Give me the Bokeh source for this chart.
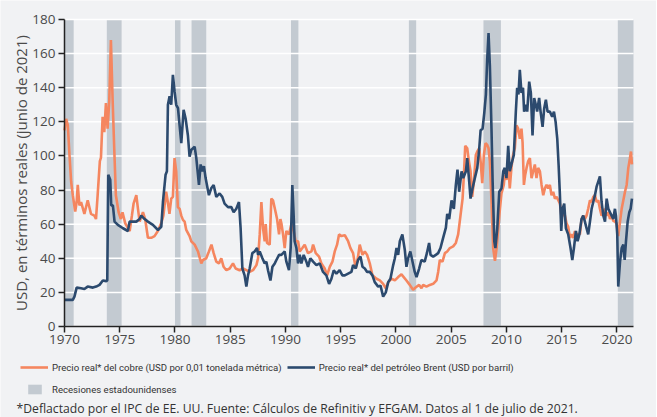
from bokeh.plotting import figure
from bokeh.models import Legend, LegendItem, Label, FixedTicker, ColumnDataSource, Range1d
from bokeh.embed import file_html
from bokeh.resources import INLINE

# ---------------- data ----------------
copper_years = [
    1970.0, 1970.15, 1970.3, 1970.45, 1970.6, 1970.75, 1970.97, 1971.1, 1971.2, 1971.35,
    1971.5, 1971.8, 1972.1, 1972.4, 1972.7, 1972.85, 1973.0, 1973.2, 1973.3, 1973.45,
    1973.6, 1973.75, 1973.9, 1974.05, 1974.2, 1974.35, 1974.5, 1974.65, 1974.9, 1975.1,
    1975.25, 1975.5, 1975.9, 1976.1, 1976.25, 1976.5, 1976.65, 1976.8, 1977.1, 1977.3,
    1977.55, 1977.85, 1978.15, 1978.45, 1978.75, 1978.95, 1979.2, 1979.35, 1979.5, 1979.66,
    1979.81, 1979.96, 1980.11, 1980.26, 1980.42, 1980.57, 1980.72, 1980.87, 1981.02, 1981.32,
    1981.47, 1981.78, 1982.08, 1982.38, 1982.53, 1982.83, 1983.07, 1983.3, 1983.5, 1983.74,
    1983.98, 1984.19, 1984.4, 1984.65, 1984.95, 1985.25, 1985.49, 1985.85, 1986.16, 1986.46,
    1986.76, 1987.06, 1987.37, 1987.52, 1987.67, 1987.82, 1987.97, 1988.12, 1988.21, 1988.33,
    1988.57, 1988.72, 1988.87, 1989.11, 1989.24, 1989.42, 1989.54, 1989.63, 1989.78, 1989.93,
    1990.08, 1990.32, 1990.53, 1990.74, 1990.92, 1991.14, 1991.29, 1991.53, 1991.74, 1992.04,
    1992.35, 1992.5, 1992.74, 1993.04, 1993.25, 1993.55, 1993.77, 1994.01, 1994.25, 1994.46,
    1994.67, 1994.85, 1995.06, 1995.37, 1995.67, 1995.88, 1996.12, 1996.36, 1996.57, 1996.72,
    1996.97, 1997.18, 1997.39, 1997.63, 1997.87, 1998.24, 1998.54, 1998.84, 1999.08, 1999.3,
    1999.6, 1999.9, 2000.2, 2000.5, 2000.95, 2001.25, 2001.55, 2001.8, 2002.1, 2002.31,
    2002.46, 2002.76, 2003.07, 2003.37, 2003.67, 2003.82, 2003.97, 2004.21, 2004.43, 2004.64,
    2004.88, 2005.18, 2005.42, 2005.63, 2005.84, 2006.03, 2006.15, 2006.27, 2006.45, 2006.6,
    2006.75, 2006.9, 2007.05, 2007.23, 2007.36, 2007.54, 2007.66, 2007.81, 2007.96, 2008.11,
    2008.26, 2008.38, 2008.5, 2008.65, 2008.8, 2008.96, 2009.11, 2009.26, 2009.41, 2009.55,
    2009.76, 2009.85, 2010.0, 2010.16, 2010.3, 2010.45, 2010.6, 2010.76, 2010.91, 2011.06,
    2011.21, 2011.36, 2011.46, 2011.58, 2011.7, 2011.82, 2011.97, 2012.12, 2012.27, 2012.42,
    2012.57, 2012.72, 2012.87, 2013.03, 2013.18, 2013.33, 2013.48, 2013.63, 2013.78, 2013.93,
    2014.08, 2014.23, 2014.39, 2014.54, 2014.69, 2014.84, 2014.99, 2015.14, 2015.29, 2015.44,
    2015.59, 2015.74, 2015.9, 2016.05, 2016.2, 2016.35, 2016.5, 2016.65, 2016.8, 2016.95,
    2017.1, 2017.25, 2017.4, 2017.56, 2017.71, 2017.86, 2018.01, 2018.16, 2018.31, 2018.46,
    2018.61, 2018.77, 2018.92, 2019.07, 2019.22, 2019.37, 2019.52, 2019.67, 2019.82, 2019.97,
    2020.12, 2020.28, 2020.43, 2020.58, 2020.73, 2020.88, 2021.03, 2021.18, 2021.27, 2021.36,
]
copper_values = [
    115, 121.7, 118, 100.6, 85, 77, 67.4, 73, 83, 71,
    73, 66, 74, 66, 65, 63, 77, 97, 99, 123,
    114, 131, 116, 132, 168, 134, 104.5, 77, 67, 63,
    67, 60.5, 56, 65, 72, 77, 69, 61.5, 67, 63,
    52, 52, 53, 56, 60.5, 65, 79, 73, 66, 75,
    76, 98.7, 91, 70, 69, 65, 62.5, 61.5, 56.6, 53,
    50, 48, 44, 37, 39, 40, 44, 48, 43, 38,
    37, 40, 35, 33, 34, 37, 34, 33, 34, 33,
    32, 33, 36, 40, 54, 73, 57.6, 50, 60, 49,
    48, 75, 74, 67, 63, 54, 63, 60.5, 54, 46,
    56, 54, 60, 56, 50, 50, 44, 46, 48, 43,
    44, 48, 43, 41, 37, 34, 30, 35, 38, 44,
    48, 54, 53, 53.5, 50, 46, 43, 34, 41, 48,
    42, 44, 42, 37, 30, 28, 27, 25, 22.4, 26,
    28, 27, 29, 30.6, 27, 24.4, 21.5, 23, 24.4, 22.4,
    24.4, 23.4, 24.4, 25, 27, 32, 39, 38, 43, 44,
    46, 47, 49, 54, 65, 75, 89, 106, 104.5, 97,
    91, 76, 85, 100.6, 102.6, 104.5, 97, 84, 100.6, 107.5,
    106.5, 104.5, 97, 73, 46, 38.5, 46, 57.6, 69, 78,
    83, 89, 86, 95, 81, 93, 100.6, 104.5, 118, 116,
    110, 116, 108, 83, 89, 93, 97, 98.7, 87, 91,
    95, 87, 93, 91, 83, 77, 81, 83, 81, 83,
    77, 79, 75, 76, 74, 72, 64, 67, 65, 60.5,
    58.5, 52, 54, 52, 56, 52.5, 54.5, 54, 63, 65,
    63, 65, 69, 74, 73, 76, 77, 73, 74, 69,
    65, 67, 69, 65, 67, 63, 65, 62, 61.5, 60.5,
    53, 61.5, 69, 74, 79, 83, 93, 98.7, 102.6, 95,
]

oil_years = [
    1970.0, 1970.75, 1970.9, 1971.1, 1971.5, 1971.8, 1972.1, 1972.57, 1972.87, 1973.17,
    1973.47, 1973.78, 1973.87, 1973.96, 1974.14, 1974.23, 1974.38, 1974.53, 1974.83, 1975.29,
    1975.74, 1975.89, 1976.19, 1976.5, 1976.8, 1976.95, 1977.25, 1977.55, 1978.0, 1978.46,
    1978.76, 1978.91, 1979.15, 1979.27, 1979.36, 1979.51, 1979.66, 1979.81, 1979.96, 1980.11,
    1980.27, 1980.57, 1980.78, 1980.96, 1981.17, 1981.32, 1981.47, 1981.78, 1981.93, 1982.17,
    1982.32, 1982.47, 1982.62, 1982.77, 1983.07, 1983.28, 1983.5, 1983.74, 1984.04, 1984.28,
    1984.49, 1984.8, 1985.1, 1985.31, 1985.55, 1985.79, 1985.94, 1986.1, 1986.3, 1986.46,
    1986.61, 1986.76, 1987.0, 1987.21, 1987.43, 1987.52, 1987.67, 1987.91, 1988.12, 1988.27,
    1988.42, 1988.64, 1988.82, 1989.03, 1989.18, 1989.42, 1989.63, 1989.78, 1989.93, 1990.08,
    1990.32, 1990.47, 1990.62, 1990.74, 1990.83, 1990.99, 1991.14, 1991.29, 1991.44, 1991.65,
    1991.89, 1992.04, 1992.25, 1992.5, 1992.8, 1993.1, 1993.4, 1993.7, 1993.95, 1994.16,
    1994.37, 1994.61, 1994.9, 1995.15, 1995.37, 1995.67, 1995.97, 1996.12, 1996.36, 1996.57,
    1996.79, 1996.97, 1997.18, 1997.39, 1997.63, 1997.87, 1998.08, 1998.39, 1998.6, 1998.84,
    1999.08, 1999.3, 1999.5, 1999.75, 1999.9, 2000.05, 2000.2, 2000.35, 2000.58, 2000.8,
    2000.95, 2001.1, 2001.3, 2001.5, 2001.7, 2001.86, 2002.1, 2002.3, 2002.6, 2002.8,
    2003.0, 2003.13, 2003.37, 2003.61, 2003.82, 2004.03, 2004.27, 2004.52, 2004.64, 2004.82,
    2005.03, 2005.24, 2005.42, 2005.57, 2005.72, 2005.94, 2006.09, 2006.33, 2006.45, 2006.63,
    2006.75, 2006.93, 2007.14, 2007.36, 2007.54, 2007.66, 2007.84, 2007.99, 2008.14, 2008.26,
    2008.38, 2008.5, 2008.65, 2008.75, 2008.9, 2009.0, 2009.17, 2009.35, 2009.55, 2009.71,
    2009.85, 2010.0, 2010.16, 2010.3, 2010.45, 2010.67, 2010.85, 2010.97, 2011.09, 2011.21,
    2011.36, 2011.5, 2011.6, 2011.76, 2011.88, 2012.06, 2012.21, 2012.36, 2012.51, 2012.66,
    2012.78, 2012.96, 2013.09, 2013.27, 2013.42, 2013.57, 2013.72, 2013.93, 2014.14, 2014.3,
    2014.45, 2014.6, 2014.72, 2014.84, 2014.96, 2015.08, 2015.23, 2015.38, 2015.59, 2015.8,
    2015.96, 2016.11, 2016.29, 2016.44, 2016.6, 2016.8, 2016.95, 2017.1, 2017.25, 2017.4,
    2017.56, 2017.71, 2017.86, 2018.01, 2018.16, 2018.31, 2018.46, 2018.61, 2018.77, 2018.92,
    2019.07, 2019.22, 2019.37, 2019.52, 2019.67, 2019.82, 2019.91, 2020.03, 2020.12, 2020.28,
    2020.43, 2020.58, 2020.7, 2020.82, 2020.97, 2021.12, 2021.24, 2021.36,
]
oil_values = [
    15.6, 15.6, 17.5, 22.8, 22.4, 22, 23.4, 22.8, 23.4, 24.4,
    27, 26.6, 27, 89, 86, 71, 71, 61.5, 59.6, 57.6,
    56, 61.5, 61.5, 61.5, 63, 65, 63, 61.5, 59.6, 56.6,
    58.5, 73, 89, 91, 130, 135, 130, 147.5, 138, 130,
    128, 107.5, 127, 122, 112, 99.6, 103.5, 105.5, 98.7, 83,
    95, 91, 94, 87, 77, 81, 83, 76, 78, 76,
    72, 70, 70, 67, 69, 73, 57.6, 34, 30, 23.4,
    30, 34, 43, 44, 46, 42, 44, 40, 37, 38,
    33, 27, 35, 37, 39, 42, 42, 43, 44, 38,
    33, 46, 83, 65, 50, 46, 37, 42, 37, 42,
    38, 35, 40, 38, 36, 37, 32, 30, 25, 28,
    33, 31, 33, 30, 30, 31, 32, 36, 34, 39,
    41, 35, 34, 32, 32, 30, 26, 23.4, 24, 17.5,
    20, 26, 28, 36, 40, 46, 42, 50, 54, 45,
    35, 40, 44, 38, 32, 29, 34, 39, 38, 43,
    49, 42, 41, 42, 43, 46, 52, 58, 66, 63,
    74, 69, 83, 92, 79, 91, 87, 91, 98.7, 85,
    75, 81, 87, 93, 104.5, 115, 116, 125, 136, 157,
    172, 153, 115, 85, 50, 46, 57.6, 79, 81, 91,
    93, 87, 106, 91, 95, 100.6, 126, 140, 136, 150.5,
    137, 140, 126, 130, 126, 143.6, 137, 112, 134, 130,
    126, 134, 126, 117, 128, 133, 126, 126, 123, 126,
    120, 110, 95, 77, 56, 69, 72, 57.6, 54, 46,
    39, 46, 56, 50, 54, 63, 65, 61.5, 57.6, 54,
    61.5, 69, 73, 77, 82, 85, 88, 73, 65, 61.5,
    75, 69, 67, 65, 63, 69, 65, 54, 23.4, 38,
    46, 48, 39, 50, 61.5, 67, 69, 75,
]

recession_start = [1970.0, 1973.83, 1980.0, 1981.5, 1990.5, 2001.17, 2007.92, 2020.08]
recession_end = [1970.83, 1975.17, 1980.5, 1982.83, 1991.17, 2001.83, 2009.5, 2021.5]

x_ticks = [1970, 1975, 1980, 1985, 1990, 1995, 2000, 2005, 2010, 2015, 2020]
y_ticks = [0, 20, 40, 60, 80, 100, 120, 140, 160, 180]

copper_label = "Precio real* del cobre (USD por 0,01 tonelada métrica)"
oil_label = "Precio real* del petróleo Brent (USD por barril)"
recession_label = "Recesiones estadounidenses"
y_title = "USD, en términos reales (junio de 2021)"
footnote = "*Deflactado por el IPC de EE. UU. Fuente: Cálculos de Refinitiv y EFGAM. Datos al 1 de julio de 2021."

# ---------------- layout / style ----------------
W, H = 656, 417
AX_LEFT, AX_RIGHT, AX_TOP, AX_BOTTOM = 64, 633, 19, 326   # pixel box of the chart axes
X0, X1 = 1970.0, 2021.5
Y0, Y1 = 0.0, 180.0
xpp = (X1 - X0) / (AX_RIGHT - AX_LEFT)
ypp = (Y1 - Y0) / (AX_BOTTOM - AX_TOP)

BG = "#f1f2f4"
COPPER = "#f5865f"
OIL = "#2c4a6e"
REC = "#c3cad1"
TXT = "#4a4a4a"
FONT = "Open Sans"
LEG_FONT = "Roboto"

p = figure(width=W, height=H,
           x_range=Range1d(X0 - AX_LEFT * xpp, X1 + (W - AX_RIGHT) * xpp),
           y_range=Range1d(Y0 - (H - AX_BOTTOM) * ypp, Y1 + AX_TOP * ypp),
           output_backend="svg", toolbar_location=None,
           min_border_left=0, min_border_right=0, min_border_top=0, min_border_bottom=0)
p.background_fill_color = BG
p.border_fill_color = BG
p.outline_line_color = None
p.xgrid.visible = False
p.ygrid.visible = False

rec_src = ColumnDataSource(dict(left=recession_start, right=recession_end,
                                bottom=[Y0] * len(recession_start), top=[Y1] * len(recession_start)))
r_rec = p.quad(left="left", right="right", bottom="bottom", top="top", source=rec_src,
               fill_color=REC, line_color=None)

# horizontal white grid lines at the y ticks, spanning the x extent of the axes
p.segment(x0=[X0] * len(y_ticks), x1=[X1] * len(y_ticks), y0=y_ticks, y1=y_ticks,
          line_color="white", line_width=1.5)

r_cu = p.line(copper_years, copper_values, line_color=COPPER, line_width=2.6)
r_oil = p.line(oil_years, oil_values, line_color=OIL, line_width=2.6)

# axes fixed at the origin, bounded to the data box
for ax in (p.xaxis[0], p.yaxis[0]):
    ax.axis_line_color = "#222222"
    ax.axis_line_width = 1.5
    ax.major_tick_line_color = "#222222"
    ax.major_tick_line_width = 1.5
    ax.major_tick_out = 6
    ax.major_tick_in = 0
    ax.minor_tick_line_color = None
    ax.major_label_text_font = FONT
    ax.major_label_text_font_size = "13.5px"
    ax.major_label_text_color = TXT
p.xaxis.ticker = FixedTicker(ticks=x_ticks)
p.yaxis.ticker = FixedTicker(ticks=y_ticks)
p.xaxis.bounds = (X0, X1)
p.yaxis.bounds = (Y0, Y1)
p.xaxis.fixed_location = Y0
p.yaxis.fixed_location = X0
p.xaxis.major_label_standoff = 2
p.yaxis.major_label_standoff = 3
p.yaxis.axis_label = y_title
p.yaxis.axis_label_text_font = FONT
p.yaxis.axis_label_text_font_size = "15px"
p.yaxis.axis_label_text_font_style = "normal"
p.yaxis.axis_label_text_color = TXT
p.yaxis.axis_label_standoff = -2

# legends
leg1 = Legend(items=[LegendItem(label=copper_label, renderers=[r_cu]),
                     LegendItem(label=oil_label, renderers=[r_oil])],
              orientation="horizontal", location=(20, 42),
              background_fill_alpha=0, border_line_color=None,
              padding=0, margin=0, spacing=5, label_standoff=4,
              glyph_width=28, glyph_height=16, label_height=16,
              label_text_font=LEG_FONT, label_text_font_size="9.6px", label_text_color="#333333")
leg2 = Legend(items=[LegendItem(label=recession_label, renderers=[r_rec])],
              orientation="horizontal", location=(26, 22),
              background_fill_alpha=0, border_line_color=None,
              padding=0, margin=0, label_standoff=9,
              glyph_width=17, glyph_height=12, label_height=12,
              label_text_font=LEG_FONT, label_text_font_size="9.6px", label_text_color="#333333")
p.add_layout(leg1)
p.add_layout(leg2)

note = Label(x=16, y=9, x_units="screen", y_units="screen", text=footnote,
             text_font=FONT, text_font_size="12.2px", text_color="#333333",
             text_baseline="alphabetic")
p.add_layout(note)

open("out.html", "w").write(file_html(p, INLINE))
